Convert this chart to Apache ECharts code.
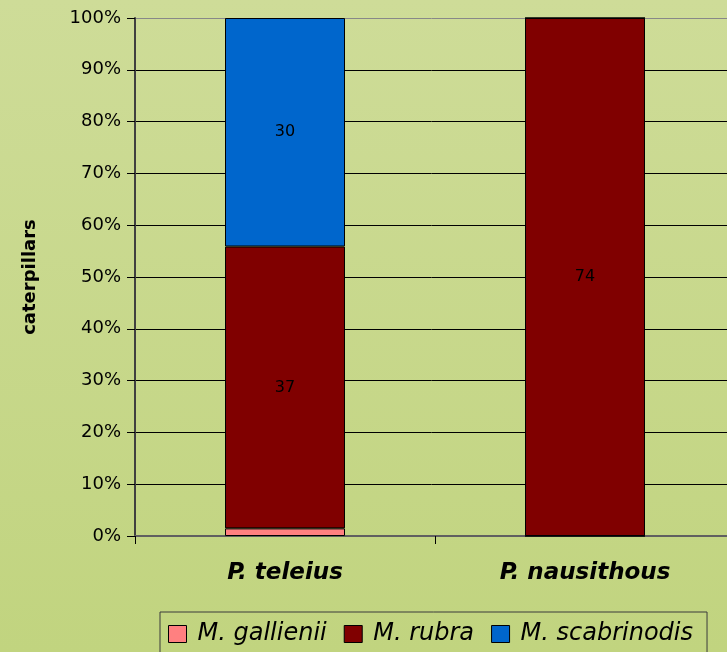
<!DOCTYPE html>
<html>
<head>
<meta charset="utf-8">
<script src="https://cdn.jsdelivr.net/npm/echarts@6/dist/echarts.min.js"></script>
<style>
html,body{margin:0;padding:0;}
#main{width:727px;height:652px;}
</style>
</head>
<body>
<div id="main"></div>
<script>
var categories=['P. teleius','P. nausithous'];
var gallienii=[1,0];
var rubra=[37,74];
var scabrinodis=[30,0];
var yTicks=['0%','10%','20%','30%','40%','50%','60%','70%','80%','90%','100%'];

var raw=[gallienii,rubra,scabrinodis];
var totals=[];
for(var i=0;i<categories.length;i++){
	totals[i]=gallienii[i]+rubra[i]+scabrinodis[i];
}
function pct(arr){
	var out=[];
	for(var i=0;i<arr.length;i++){
		out[i]=totals[i]>0?arr[i]/totals[i]*100:0;
	}
	return out;
}
var names=['M. gallienii','M. rubra','M. scabrinodis'];
var colors=['#ff8080','#800000','#0066cc'];
var series=[];
for(var s=0;s<raw.length;s++){
	(function(s){
		series.push({
			name:names[s],
			type:'bar',
			stack:'all',
			barWidth:'40%',
			data:pct(raw[s]),
			itemStyle:{color:colors[s],borderColor:'#000',borderWidth:1},
			label:{
				show:s>0,
				position:'inside',
				color:'#000',
				fontSize:16,
				fontFamily:'DejaVu Sans',
				formatter:function(p){
					var v=raw[s][p.dataIndex];
					return v>0?String(v):'';
				}
			}
		});
	})(s);
}

// grid lines: black, the top one grey
var splitColors=[];
for(var k=0;k<10;k++){ splitColors.push('#000'); }
splitColors.push('#888');

var myChart=echarts.init(document.getElementById('main'));
var option={
	backgroundColor:new echarts.graphic.LinearGradient(0,0,0,1,[
		{offset:0,color:'#cedc98'},
		{offset:1,color:'#c1d47f'}
	]),
	animation:false,
	grid:{left:135,top:18,width:600,height:518,containLabel:false,outerBoundsMode:'none'},
	legend:{
		left:160,
		top:612,
		padding:[10,14,12,8],
		itemGap:17,
		itemWidth:18,
		itemHeight:17,
		icon:'rect',
		borderColor:'#3a3a3a',
		borderWidth:1,
		data:names,
		itemStyle:{borderColor:'#000',borderWidth:1},
		textStyle:{fontSize:24,fontStyle:'italic',fontFamily:'DejaVu Sans',color:'#000',padding:[0,0,0,6]}
	},
	xAxis:{
		type:'category',
		data:categories,
		axisLine:{lineStyle:{color:'#606060',width:2}},
		axisTick:{show:true,length:8,lineStyle:{color:'#000'}},
		axisLabel:{margin:26,fontSize:23,fontWeight:'bold',fontStyle:'italic',fontFamily:'DejaVu Sans',color:'#000'}
	},
	yAxis:{
		type:'value',
		min:0,
		max:100,
		interval:10,
		name:'caterpillars',
		nameLocation:'middle',
		nameGap:96,
		nameTextStyle:{fontSize:18,fontWeight:'bold',fontFamily:'DejaVu Sans',color:'#000'},
		axisLine:{show:true,lineStyle:{color:'#404040',width:2}},
		axisTick:{show:true,length:8,lineStyle:{color:'#000'}},
		axisLabel:{margin:14,fontSize:18,fontFamily:'DejaVu Sans',color:'#000',
			formatter:function(v){return yTicks[Math.round(v/10)];}},
		splitLine:{lineStyle:{color:splitColors,width:1}}
	},
	series:series
};
myChart.setOption(option);
</script>
</body>
</html>
